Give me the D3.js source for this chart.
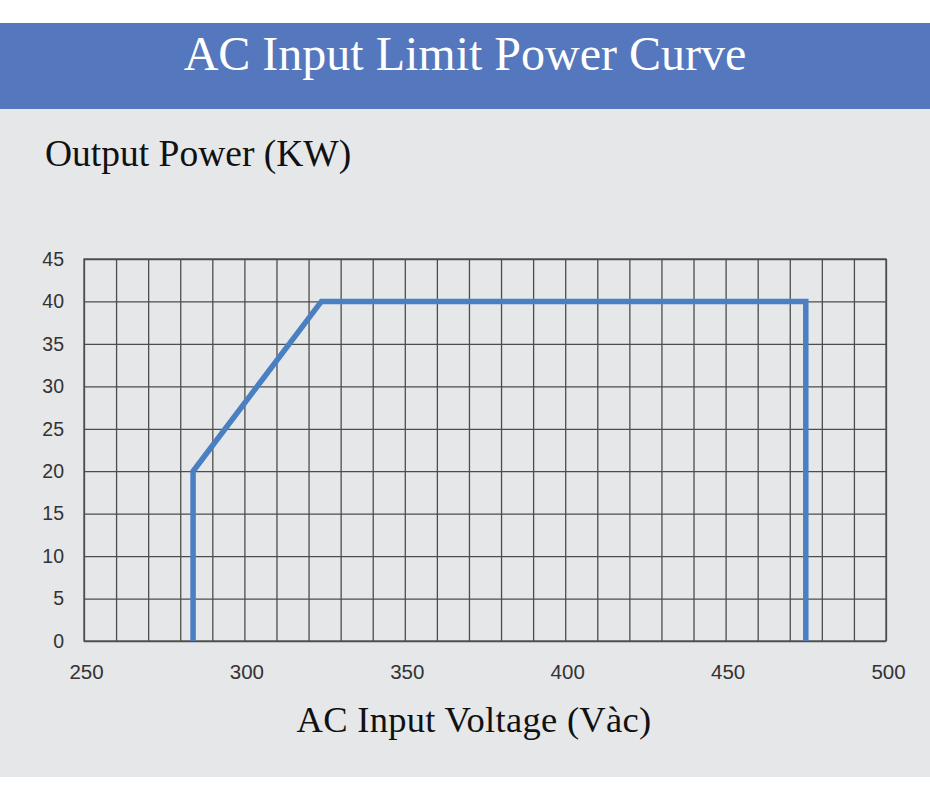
<!DOCTYPE html>
<html>
<head>
<meta charset="utf-8">
<script src="https://cdn.jsdelivr.net/npm/d3@7/dist/d3.min.js"></script>
<style>
  html, body { margin: 0; padding: 0; background: #ffffff; }
  svg { display: block; }
</style>
</head>
<body>
<svg id="chart" width="930" height="795"></svg>
<script>
// ---- data ----
const voltage = [284, 284, 324, 475, 475];       // AC input voltage (Vac)
const power   = [0, 20, 40, 40, 0];              // output power (kW)
const xTicks  = [250, 260, 270, 280, 290, 300, 310, 320, 330, 340, 350, 360, 370, 380, 390, 400, 410, 420, 430, 440, 450, 460, 470, 480, 490, 500];
const xLabels = [250, 300, 350, 400, 450, 500];
const yTicks  = [0, 5, 10, 15, 20, 25, 30, 35, 40, 45];
const title   = "AC Input Limit Power Curve";
const yTitle  = "Output Power (KW)";
const xTitle  = "AC Input Voltage (Vàc)";

(function () {
const svg = d3.select("#chart");
const W = 930, H = 795;

// background panels
svg.append("rect").attr("x", 0).attr("y", 0).attr("width", W).attr("height", H).attr("fill", "#ffffff");
svg.append("rect").attr("x", 0).attr("y", 109).attr("width", W).attr("height", 668).attr("fill", "#e6e7e9");
svg.append("rect").attr("x", 0).attr("y", 23).attr("width", W).attr("height", 86).attr("fill", "#5577bd");

svg.append("text").attr("x", 465).attr("y", 70)
  .attr("text-anchor", "middle")
  .style("font-family", "'Liberation Serif', 'Times New Roman', serif")
  .style("font-size", "48px").attr("fill", "#ffffff").text(title);

svg.append("text").attr("x", 45).attr("y", 166)
  .style("font-family", "'Liberation Serif', 'Times New Roman', serif")
  .style("font-size", "37.5px").attr("fill", "#111111").text(yTitle);

svg.append("text").attr("x", 474).attr("y", 732)
  .attr("text-anchor", "middle")
  .style("font-family", "'Liberation Serif', 'Times New Roman', serif")
  .style("letter-spacing", "0.3px")
  .style("font-size", "36.5px").attr("fill", "#111111").text(xTitle);

// plot area
const pL = 84, pR = 886, pT = 259, pB = 641;
const x = d3.scaleLinear().domain([250, 500]).range([pL, pR]);
const y = d3.scaleLinear().domain([0, 45]).range([pB, pT]);

const gridColor = "#4d4d4d";

// x axis with vertical grid
const gx = svg.append("g").attr("transform", `translate(0,${pB})`)
  .call(d3.axisBottom(x).tickValues(xTicks).tickSize(-(pB - pT))
    .tickFormat(d => xLabels.includes(d) ? d : ""));
gx.select(".domain").remove();
gx.selectAll(".tick line").attr("stroke", gridColor).attr("stroke-width", 1.3);
gx.selectAll(".tick text").attr("y", 38).attr("dy", null).attr("x", 2)
  .style("font-family", "'Liberation Sans', Arial, sans-serif")
  .style("font-size", "20.5px").attr("fill", "#333333");

// y axis with horizontal grid
const gy = svg.append("g").attr("transform", `translate(${pL},0)`)
  .call(d3.axisLeft(y).tickValues(yTicks).tickSize(-(pR - pL)).tickPadding(20));
gy.select(".domain").remove();
gy.selectAll(".tick line").attr("stroke", gridColor).attr("stroke-width", 1.3);
gy.selectAll(".tick text")
  .style("font-family", "'Liberation Sans', Arial, sans-serif")
  .style("font-size", "19.5px").attr("fill", "#333333");

// frame
svg.append("rect").attr("x", pL).attr("y", pT)
  .attr("width", pR - pL).attr("height", pB - pT)
  .attr("fill", "none").attr("stroke", gridColor).attr("stroke-width", 1.3);

// curve
const pts = voltage.map((v, i) => [v, power[i]]);
const line = d3.line().x(d => x(d[0])).y(d => y(d[1]));
svg.append("path").datum(pts)
  .attr("d", line)
  .attr("fill", "none")
  .attr("stroke", "#4a7fc2")
  .attr("stroke-width", 5.5)
  .attr("stroke-linejoin", "miter");
})();
</script>
</body>
</html>
